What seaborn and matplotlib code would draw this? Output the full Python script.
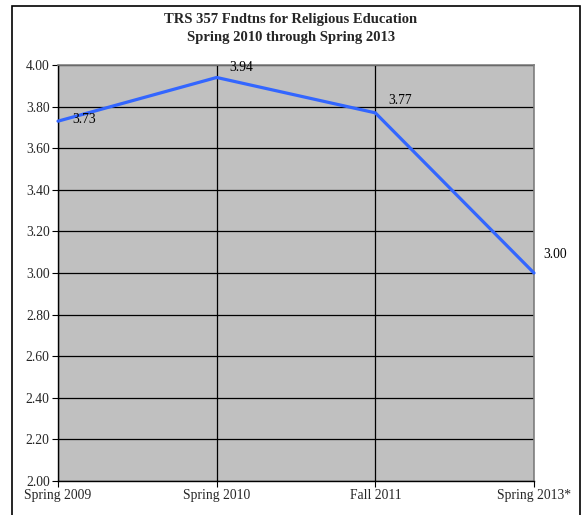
import matplotlib
matplotlib.use("Agg")
import matplotlib.pyplot as plt
import seaborn as sns
import pandas as pd
from matplotlib.patches import Rectangle

terms = ["Spring 2009", "Spring 2010", "Fall 2011", "Spring 2013*"]
means = [3.73, 3.94, 3.77, 3.00]
yticks = [2.00, 2.20, 2.40, 2.60, 2.80, 3.00, 3.20, 3.40, 3.60, 3.80, 4.00]

# label offsets in pixels (roughly like the excel export)
label_offsets = [(14, 2), (13, 10), (13, 12), (9, 19)]

sns.set_style("white")
plt.rcParams["font.family"] = ["Liberation Serif", "DejaVu Serif"]

df = pd.DataFrame({"term": terms, "mean": means})
df["pos"] = range(len(terms))

fig = plt.figure(figsize=(5.82, 5.15), dpi=100)
ax = fig.add_axes([58 / 582, 34 / 515, 476 / 582, 416 / 515])
ax.set_facecolor("#c0c0c0")

sns.lineplot(data=df, x="pos", y="mean", ax=ax, color="#3366ff", linewidth=2.3,
             clip_on=False, zorder=5)

for (x, y, (dx, dy)) in zip(df["pos"], df["mean"], label_offsets):
    ax.annotate(f"{y:.2f}", (x, y), xytext=(dx * 0.72, dy * 0.72), textcoords="offset points",
                ha="left", va="center", fontsize=9.8, color="black", zorder=6)

ax.set_xlim(0, len(terms) - 1)
ax.set_ylim(2.0, 4.0)
ax.set_yticks(yticks)
ax.set_yticklabels([f"{t:.2f}" for t in yticks], fontsize=9.8)
ax.set_xticks(range(len(terms)))
ax.set_xticklabels(terms, fontsize=9.8)
ax.set_xlabel("")
ax.set_ylabel("")

ax.grid(True, color="black", linewidth=0.9)
ax.set_axisbelow(True)
for side in ["top", "right"]:
    ax.spines[side].set_color("#808080")
    ax.spines[side].set_linewidth(1.2)
for side in ["left", "bottom"]:
    ax.spines[side].set_color("black")
    ax.spines[side].set_linewidth(1.0)
ax.tick_params(axis="both", direction="out", length=4, width=0.8, color="black",
               left=True, bottom=True, pad=2)

fig.text(0.5, 1 - 19 / 515, "TRS 357 Fndtns for Religious Education", ha="center",
         va="center", fontsize=10.5, fontweight="bold")
fig.text(0.5, 1 - 38 / 515, "Spring 2010 through Spring 2013", ha="center",
         va="center", fontsize=10.5, fontweight="bold")

# outer chart border
fig.patches.append(Rectangle((12 / 582, -0.05), (580 - 12) / 582, 1.05 - 5.5 / 515,
                             transform=fig.transFigure, fill=False,
                             edgecolor="black", linewidth=1.2))

fig.savefig("out.png", dpi=100)
